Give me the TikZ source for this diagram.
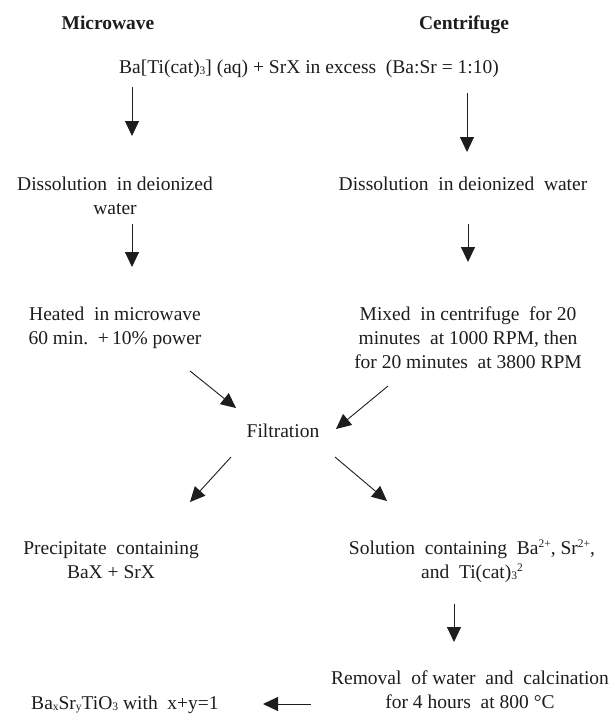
\documentclass[tikz,border=0pt]{standalone}
\usepackage{fontspec}
\setmainfont{Liberation Serif}
\usetikzlibrary{arrows.meta}
\definecolor{ink}{RGB}{30,28,29}
\newcommand{\blk}[1]{\begin{tabular}[t]{@{}c@{}}#1\end{tabular}}
\newcommand{\lowsub}[1]{\raisebox{-1pt}{\fontsize{11.5}{12}\selectfont #1}}
\newcommand{\hisup}[1]{\raisebox{7pt}{\fontsize{11.5}{12}\selectfont #1}}
\tikzset{
  txt/.style={anchor=base, inner sep=0pt, text=ink, font=\fontsize{19.5}{24}\selectfont},
  hdr/.style={txt, font=\fontsize{19.5}{24}\selectfont\bfseries},
  arr/.style={draw=ink, line width=0.9pt, -{Triangle[width=14pt,length=15pt]}}
}
\begin{document}
\begin{tikzpicture}[x=1pt,y=-1pt]
\useasboundingbox (0,0) rectangle (614,718);
% headers
\node[hdr] (mw) at (108,29) {Microwave};
\node[hdr] (cf) at (464,29) {Centrifuge};
% start
\node[txt] (top) at (309,73) {Ba[Ti(cat)\lowsub{3}] (aq) + SrX in excess\ \ (Ba:Sr = 1:10)};
% dissolution
\node[txt] (dl) at (115,190) {\blk{Dissolution\ \ in deionized\\water}};
\node[txt] (dr) at (463,190) {Dissolution\ \ in deionized\ \ water};
% processing
\node[txt] (hl) at (115,320) {\blk{Heated\ \ in microwave\\60 min.\ \ +\,10\% power}};
\node[txt] (mr) at (468,320) {\blk{Mixed\ \ in centrifuge\ \ for 20\\minutes\ \ at 1000 RPM, then\\for 20 minutes\ \ at 3800 RPM}};
% filtration
\node[txt] (filt) at (283,437) {Filtration};
% products
\node[txt] (pl) at (111,554) {\blk{Precipitate\ \ containing\\BaX + SrX}};
\node[txt] (sr) at (472,554) {\blk{Solution\ \ containing\ \ Ba\hisup{2+}, Sr\hisup{2+},\\and\ \ Ti(cat)\lowsub{3}\hisup{2}}};
\node[txt] (rm) at (470,684) {\blk{Removal\ \ of water\ \ and\ \ calcination\\for 4 hours\ \ at 800 °C}};
\node[txt] (bx) at (125,709) {Ba\lowsub{x}Sr\lowsub{y}TiO\lowsub{3} with\ \ x+y=1};
% connector end points
\coordinate (a1s) at (132,87);  \coordinate (a1e) at (132,136);
\coordinate (a2s) at (467,93);  \coordinate (a2e) at (467,152);
\coordinate (a3s) at (132,224); \coordinate (a3e) at (132,267);
\coordinate (a4s) at (468,224); \coordinate (a4e) at (468,262);
\coordinate (a5s) at (190,371); \coordinate (a5e) at (236,408);
\coordinate (a6s) at (388,386); \coordinate (a6e) at (336,429);
\coordinate (a7s) at (231,457); \coordinate (a7e) at (190,502);
\coordinate (a8s) at (335,457); \coordinate (a8e) at (387,501);
\coordinate (a9s) at (454,604); \coordinate (a9e) at (454,642);
\coordinate (a10s) at (311,704); \coordinate (a10e) at (263,704);
\draw[arr] (a1s) -- (a1e);
\draw[arr] (a2s) -- (a2e);
\draw[arr] (a3s) -- (a3e);
\draw[arr] (a4s) -- (a4e);
\draw[arr] (a5s) -- (a5e);
\draw[arr] (a6s) -- (a6e);
\draw[arr] (a7s) -- (a7e);
\draw[arr] (a8s) -- (a8e);
\draw[arr] (a9s) -- (a9e);
\draw[arr] (a10s) -- (a10e);
\end{tikzpicture}
\end{document}
